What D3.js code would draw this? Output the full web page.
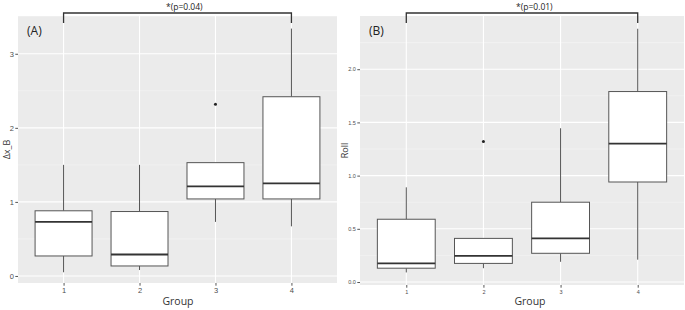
<!DOCTYPE html>
<html>
<head>
<meta charset="utf-8">
<script src="https://cdn.jsdelivr.net/npm/d3@7"></script>
<style>
  body { margin: 0; background: #fff; }
  svg { display: block; font-family: "Open Sans", "DejaVu Sans", sans-serif; }
</style>
</head>
<body>
<svg id="chart" width="685" height="310"></svg>
<script>
// groups on the x axis
var groups = ["1", "2", "3", "4"];

// panel A : delta x_B
var q1A  = [0.27, 0.135, 1.04, 1.04];
var medA = [0.73, 0.29, 1.21, 1.25];
var q3A  = [0.88, 0.87, 1.53, 2.42];
var hiA  = [1.50, 1.50, 1.53, 3.34];
var lowWhA = [0.05, 0.08, 0.73, 0.67];
var outA = [{g: "3", v: 2.32}];
var ticksA = [0, 1, 2, 3];

// panel B : Roll
var loB  = [0.09, 0.13, 0.19, 0.21];
var q1B  = [0.13, 0.175, 0.27, 0.94];
var medB = [0.175, 0.245, 0.41, 1.30];
var q3B  = [0.59, 0.41, 0.75, 1.79];
var hiB  = [0.89, 0.41, 1.445, 2.38];
var outB = [{g: "2", v: 1.32}];
var ticksB = [0, 0.5, 1.0, 1.5, 2.0];

var svg = d3.select("#chart");

function panel(o) {
    var x = d3.scaleLinear().domain([0.4, 4.6]).range([o.left, o.right]);
    var y = d3.scaleLinear().domain(o.ydom).range([o.bottom, o.top]);
    var g = svg.append("g");

    g.append("rect")
        .attr("x", o.left).attr("y", o.top)
        .attr("width", o.right - o.left).attr("height", o.bottom - o.top)
        .attr("fill", "#EBEBEB");

    // minor grid
    var minor = [];
    for (var i = 0; i < o.ticks.length; i++) {
        var m = o.ticks[i] - o.step / 2;
        if (y(m) < o.bottom) minor.push(m);
    }
    minor.push(o.ticks[o.ticks.length - 1] + o.step / 2);
    g.selectAll(".minor").data(minor).enter().append("line")
        .attr("x1", o.left).attr("x2", o.right)
        .attr("y1", function(d) { return y(d); }).attr("y2", function(d) { return y(d); })
        .attr("stroke", "#F5F5F5").attr("stroke-width", 0.6);

    g.selectAll(".majory").data(o.ticks).enter().append("line")
        .attr("x1", o.left).attr("x2", o.right)
        .attr("y1", function(d) { return y(d); }).attr("y2", function(d) { return y(d); })
        .attr("stroke", "#fff").attr("stroke-width", 1.1);

    g.selectAll(".majorx").data(groups).enter().append("line")
        .attr("x1", function(d) { return x(+d); }).attr("x2", function(d) { return x(+d); })
        .attr("y1", o.top).attr("y2", o.bottom)
        .attr("stroke", "#fff").attr("stroke-width", 1.1);

    // axes
    var ay = g.append("g").attr("transform", "translate(" + o.left + ",0)")
        .call(d3.axisLeft(y).tickValues(o.ticks).tickSize(2.7).tickPadding(1.5).tickFormat(o.fmt));
    ay.select(".domain").remove();
    ay.selectAll("line").attr("stroke", "#555");
    ay.selectAll("text").attr("fill", "#4D4D4D").style("font-size", o.tickFont + "px");

    var ax = g.append("g").attr("transform", "translate(0," + o.bottom + ")")
        .call(d3.axisBottom(x).tickValues(groups.map(Number)).tickSize(2.7).tickPadding(2).tickFormat(d3.format("d")));
    ax.select(".domain").remove();
    ax.selectAll("line").attr("stroke", "#555");
    ax.selectAll("text").attr("fill", "#4D4D4D").style("font-size", o.tickFont + "px");

    var bw = (x(1.75) - x(1)) / 2;
    var d = groups.map(function(k, i) {
        return {g: +k, lo: o.lo[i], q1: o.q1[i], med: o.med[i], q3: o.q3[i], hi: o.hi[i]};
    });

    // whiskers
    g.selectAll(".wlo").data(d).enter().append("line")
        .attr("x1", function(e) { return x(e.g); }).attr("x2", function(e) { return x(e.g); })
        .attr("y1", function(e) { return y(e.q1); }).attr("y2", function(e) { return y(e.lo); })
        .attr("stroke", "#555").attr("stroke-width", 1);
    g.selectAll(".whi").data(d).enter().append("line")
        .attr("x1", function(e) { return x(e.g); }).attr("x2", function(e) { return x(e.g); })
        .attr("y1", function(e) { return y(e.q3); }).attr("y2", function(e) { return y(e.hi); })
        .attr("stroke", "#555").attr("stroke-width", 1);

    g.selectAll(".box").data(d).enter().append("rect")
        .attr("x", function(e) { return x(e.g) - bw; })
        .attr("y", function(e) { return y(e.q3); })
        .attr("width", bw * 2)
        .attr("height", function(e) { return y(e.q1) - y(e.q3); })
        .attr("fill", "#fff").attr("stroke", "#555").attr("stroke-width", 1);

    g.selectAll(".med").data(d).enter().append("line")
        .attr("x1", function(e) { return x(e.g) - bw; }).attr("x2", function(e) { return x(e.g) + bw; })
        .attr("y1", function(e) { return y(e.med); }).attr("y2", function(e) { return y(e.med); })
        .attr("stroke", "#333").attr("stroke-width", 1.8);

    g.selectAll(".out").data(o.out).enter().append("circle")
        .attr("cx", function(e) { return x(+e.g); }).attr("cy", function(e) { return y(e.v); })
        .attr("r", 1.5).attr("fill", "#222");

    // significance bracket
    var by = 13, leg = 23;
    g.append("path")
        .attr("d", "M" + x(1) + "," + leg + "V" + by + "H" + x(4) + "V" + leg)
        .attr("fill", "none").attr("stroke", "#333").attr("stroke-width", 1.3);
    g.append("text")
        .attr("x", x(o.pX)).attr("y", 9.5)
        .attr("text-anchor", "middle")
        .style("font-size", "8.5px").attr("fill", "#222")
        .text(o.pText);

    g.append("text")
        .attr("x", o.left + 9).attr("y", 35)
        .style("font-size", "12px").attr("fill", "#222")
        .text(o.tag);

    g.append("text")
        .attr("x", o.groupX).attr("y", 305)
        .attr("text-anchor", "middle")
        .style("font-size", "10.5px").attr("fill", "#333")
        .text("Group");

    g.append("text")
        .attr("transform", "translate(" + o.yLabX + "," + ((o.top + o.bottom) / 2) + ") rotate(-90)")
        .attr("text-anchor", "middle")
        .style("font-size", "9px").attr("fill", "#333")
        .text(o.yLab);
}

panel({left: 18, right: 337, top: 16, bottom: 283, ydom: [-0.095, 3.51],
       ticks: ticksA, step: 1, fmt: d3.format("d"), tickFont: 7.5,
       lo: lowWhA, q1: q1A, med: medA, q3: q3A, hi: hiA, out: outA,
       pX: 2.59, pText: "*(p=0.04)", tag: "(A)", groupX: 178, yLab: "\u0394x_B", yLabX: 10});

panel({left: 360, right: 684, top: 16, bottom: 285, ydom: [-0.028, 2.50],
       ticks: ticksB, step: 0.5, fmt: d3.format(".1f"), tickFont: 5.5,
       lo: loB, q1: q1B, med: medB, q3: q3B, hi: hiB, out: outB,
       pX: 2.66, pText: "*(p=0.01)", tag: "(B)", groupX: 530, yLab: "Roll", yLabX: 348});
</script>
</body>
</html>
